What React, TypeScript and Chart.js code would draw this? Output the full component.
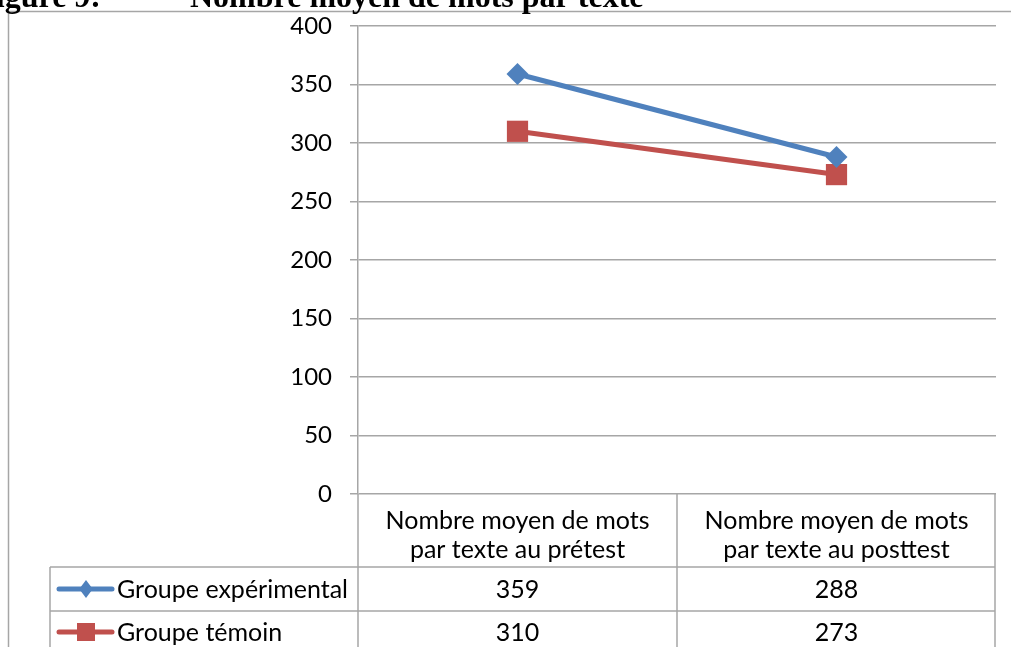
import { useEffect, useRef } from "react";
import { Chart, registerables } from "chart.js";

Chart.register(...registerables);

const categories = [
  "Nombre moyen de mots par texte au prétest",
  "Nombre moyen de mots par texte au posttest",
];
const categoryLines = [
  ["Nombre moyen de mots", "par texte au prétest"],
  ["Nombre moyen de mots", "par texte au posttest"],
];
const seriesNames = ["Groupe expérimental", "Groupe témoin"];
const experimentalValues = [359, 288];
const temoinValues = [310, 273];
const yMin = 0;
const yMax = 400;
const yStep = 50;
const figureLabel = "Figure 9:";
const figureTitle = "Nombre moyen de mots par texte";

const BLUE = "#4F81BD";
const RED = "#C0504D";
const GRID = "#a6a6a6";
const FONT = "Lato";
const FS = 24;
const TFS = 25;

function drawMarker(ctx: CanvasRenderingContext2D, style: string, x: number, y: number, r: number, color: string) {
  ctx.save();
  ctx.fillStyle = color;
  ctx.beginPath();
  if (style === "rectRot") {
    ctx.moveTo(x - r * 0.75, y);
    ctx.lineTo(x, y - r);
    ctx.lineTo(x + r * 0.75, y);
    ctx.lineTo(x, y + r);
    ctx.closePath();
  } else {
    ctx.rect(x - r, y - r, 2 * r, 2 * r);
  }
  ctx.fill();
  ctx.restore();
}

const tablePlugin = {
  id: "dataTable",
  afterDraw(chart: any) {
    const ctx: CanvasRenderingContext2D = chart.ctx;
    const ca = chart.chartArea;
    const xs = chart.scales.x;
    const L = ca.left;
    const R = ca.right - 1;
    const M = (xs.getPixelForValue(0) + xs.getPixelForValue(1)) / 2;
    const top = ca.bottom;
    const h1 = 567;
    const h2 = 611;
    const bottom = chart.height;
    const legendLeft = 50;

    ctx.save();
    ctx.strokeStyle = GRID;
    ctx.lineWidth = 1.5;
    ctx.beginPath();
    ctx.moveTo(8.5, chart.height);
    ctx.lineTo(8.5, 11.5);
    ctx.lineTo(chart.width, 11.5);
    ctx.stroke();

    ctx.beginPath();
    ctx.moveTo(legendLeft, h1);
    ctx.lineTo(R, h1);
    ctx.moveTo(legendLeft, h2);
    ctx.lineTo(R, h2);
    ctx.moveTo(legendLeft, h1);
    ctx.lineTo(legendLeft, bottom);
    ctx.moveTo(L, top);
    ctx.lineTo(L, bottom);
    ctx.moveTo(M, top);
    ctx.lineTo(M, bottom);
    ctx.moveTo(R, top);
    ctx.lineTo(R, bottom);
    ctx.stroke();

    ctx.fillStyle = "#000";
    ctx.font = `${TFS}px ${FONT}`;
    ctx.textAlign = "center";
    ctx.textBaseline = "middle";
    categoryLines.forEach((lines, i) => {
      const cx = xs.getPixelForValue(i);
      ctx.fillText(lines[0], cx, 521);
      ctx.fillText(lines[1], cx, 550);
    });

    const rowY = [589, 632];
    chart.data.datasets.forEach((ds: any, r: number) => {
      const y = rowY[r];
      ctx.strokeStyle = ds.borderColor;
      ctx.lineWidth = 5;
      ctx.lineCap = "round";
      ctx.beginPath();
      ctx.moveTo(59, y);
      ctx.lineTo(112, y);
      ctx.stroke();
      if (ds.pointStyle === "rectRot") drawMarker(ctx, "rectRot", 86, y, 9, ds.borderColor);
      else drawMarker(ctx, "rect", 86, y, 9, ds.borderColor);
      ctx.fillStyle = "#000";
      ctx.textAlign = "left";
      ctx.fillText(ds.label, 117, y + 1);
      ctx.textAlign = "center";
      ds.data.forEach((v: number, i: number) => {
        ctx.fillText(String(v), xs.getPixelForValue(i), y + 1);
      });
    });

    ctx.font = `bold 32px "Liberation Serif"`;
    ctx.textBaseline = "alphabetic";
    ctx.textAlign = "right";
    ctx.fillText(figureLabel, 101, 7);
    ctx.textAlign = "left";
    ctx.fillText(figureTitle, 190, 7);
    ctx.restore();
  },
};

export default function App() {
  const ref = useRef<HTMLCanvasElement | null>(null);
  useEffect(() => {
    if (!ref.current) return;
    const chart = new Chart(ref.current, {
      type: "line",
      data: {
        labels: categories,
        datasets: [
          {
            label: seriesNames[0],
            data: experimentalValues,
            borderColor: BLUE,
            backgroundColor: BLUE,
            borderWidth: 5,
            pointStyle: "rectRot",
            pointRadius: 11,
            pointHoverRadius: 11,
            pointBorderWidth: 0,
          },
          {
            label: seriesNames[1],
            data: temoinValues,
            borderColor: RED,
            backgroundColor: RED,
            borderWidth: 5,
            pointStyle: "rect",
            pointRadius: 15,
            pointHoverRadius: 15,
            pointBorderWidth: 0,
          },
        ],
      },
      options: {
        responsive: false,
        animation: false,
        layout: { padding: { left: 0, right: 15, top: 26, bottom: 153 } },
        plugins: { legend: { display: false }, tooltip: { enabled: false } },
        scales: {
          x: { type: "category", offset: true, display: false },
          y: {
            min: yMin,
            max: yMax,
            ticks: {
              stepSize: yStep,
              padding: 18,
              color: "#000",
              font: { family: FONT, size: FS },
            },
            grid: { color: GRID, lineWidth: 1.5, tickLength: 8 },
            border: { display: true, color: GRID, width: 1.5 },
            afterFit: (s: any) => {
              s.width = 358;
              s.paddingTop = 0;
              s.paddingBottom = 0;
            },
          },
        },
      },
      plugins: [tablePlugin],
    });
    return () => chart.destroy();
  }, []);
  return (
    <canvas
      ref={ref}
      width={1011}
      height={647}
      style={{ position: "fixed", left: 0, top: 0, display: "block", background: "#fff" }}
    />
  );
}
